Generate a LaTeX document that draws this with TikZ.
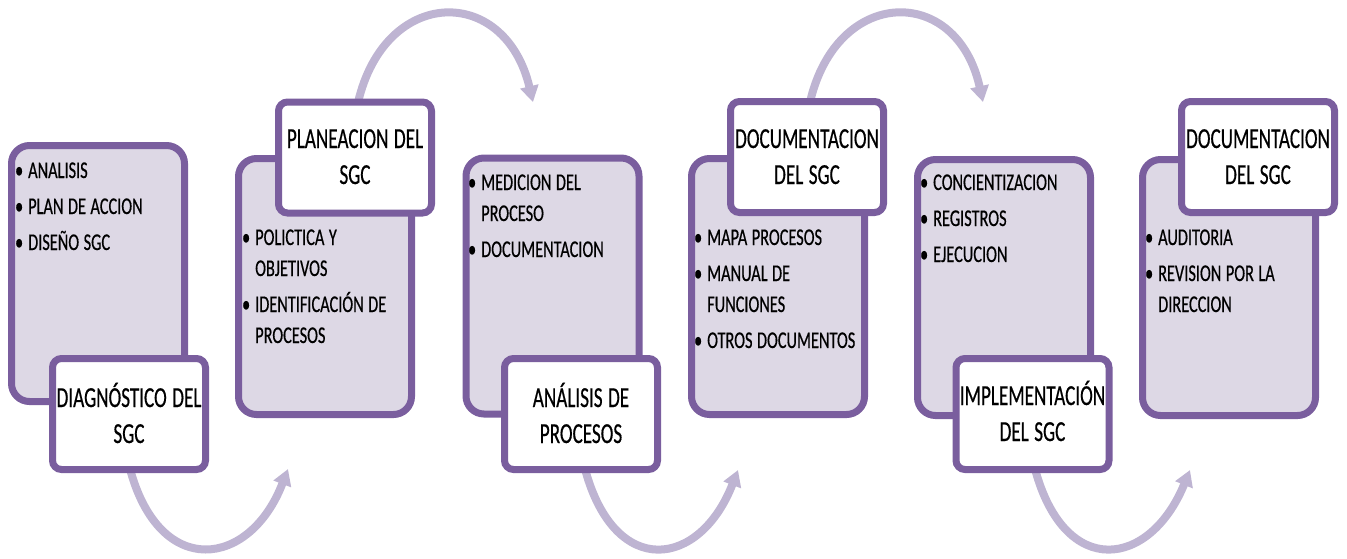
\documentclass[tikz,border=0pt]{standalone}
\usepackage{fontspec}
\setmainfont{Carlito}
\newfontfamily\itemfont{Carlito}[FakeStretch=0.68,FakeBold=0.5]
\newfontfamily\titlefont{Carlito}[FakeStretch=0.66,FakeBold=0.5]
\usetikzlibrary{arrows.meta,backgrounds}
\definecolor{brd}{HTML}{7A5E9E}
\definecolor{lav}{HTML}{DDD8E5}
\definecolor{arc}{HTML}{BEB4D2}
\newcommand{\bul}{\leavevmode\llap{\textbullet\hspace{5pt}}}

\begin{document}
\begin{tikzpicture}[x=1pt,y=-1pt,
  bigbox/.style={draw=brd, fill=lav, line width=7pt, rounded corners=18pt,
    minimum width=173pt, minimum height=256pt, inner sep=0pt},
  titlebox/.style={draw=brd, fill=white, line width=7pt, rounded corners=9pt,
    minimum width=153pt, minimum height=111pt, inner sep=0pt},
  items/.style={anchor=base west, inner sep=0pt, text width=175pt, align=left,
    font=\itemfont\fontsize{24}{31}\selectfont,
    execute at begin node={\spaceskip=4.5pt\relax}},
  title/.style={anchor=base, inner sep=0pt, text width=160pt, align=center,
    font=\titlefont\fontsize{29}{36}\selectfont,
    execute at begin node={\spaceskip=5.5pt\relax}},
  flow/.style={draw=arc, line width=8pt, -{Triangle[length=16pt,width=18pt]}}
]
\useasboundingbox (0,0) rectangle (1347,558);

% content panels
\node[bigbox] (b1) at (98,273.5) {};
\node[bigbox] (b2) at (325,286.5) {};
\node[bigbox] (b3) at (552.5,286) {};
\node[bigbox] (b4) at (778,286.5) {};
\node[bigbox] (b5) at (1004,287.5) {};
\node[bigbox] (b6) at (1229,287.5) {};

% stage title boxes
\node[titlebox] (s1) at (129,414) {};
\node[titlebox] (s2) at (355,157.5) {};
\node[titlebox] (s3) at (581,414) {};
\node[titlebox] (s4) at (807,157) {};
\node[titlebox] (s5) at (1032.5,414) {};
\node[titlebox] (s6) at (1258,157) {};

% bullet lists
\node[items] (t1) at (28,178) {\bul ANALISIS\\[5pt]\bul PLAN DE ACCION\\[5pt]\bul DISEÑO SGC};
\node[items] (t2) at (255,245) {\bul POLICTICA Y\\OBJETIVOS\\[5pt]\bul IDENTIFICACIÓN DE\\PROCESOS};
\node[items] (t3) at (481,190) {\bul MEDICION DEL\\PROCESO\\[5pt]\bul DOCUMENTACION};
\node[items] (t4) at (707,245) {\bul MAPA PROCESOS\\[5pt]\bul MANUAL DE\\FUNCIONES\\[5pt]\bul OTROS DOCUMENTOS};
\node[items] (t5) at (933,190) {\bul CONCIENTIZACION\\[5pt]\bul REGISTROS\\[5pt]\bul EJECUCION};
\node[items] (t6) at (1158,245) {\bul AUDITORIA\\[5pt]\bul REVISION POR LA\\DIRECCION};

% stage titles
\node[title] (h1) at (129,407) {DIAGNÓSTICO DEL\\SGC};
\node[title] (h2) at (355,148) {PLANEACION DEL\\SGC};
\node[title] (h3) at (581,407) {ANÁLISIS DE\\PROCESOS};
\node[title] (h4) at (807,148) {DOCUMENTACION\\DEL SGC};
\node[title] (h5) at (1032.5,405) {IMPLEMENTACIÓN\\DEL SGC};
\node[title] (h6) at (1258,148) {DOCUMENTACION\\DEL SGC};

% arrow ends
\coordinate (e1) at (288,469);
\coordinate (e2) at (533,102);
\coordinate (e3) at (738,470);
\coordinate (e4) at (983,102);
\coordinate (e5) at (1190,470);

% connecting arcs, behind the boxes
\begin{scope}[on background layer]
  \draw[flow] ([xshift=1pt,yshift=4pt]s1.south) .. controls (160,580) and (250,568) .. (e1);
  \draw[flow] ([xshift=3pt,yshift=-4pt]s2.north) .. controls (385,-14) and (505,-16) .. (e2);
  \draw[flow] ([xshift=4pt,yshift=4pt]s3.south) .. controls (615,580) and (700,568) .. (e3);
  \draw[flow] ([xshift=3pt,yshift=-4pt]s4.north) .. controls (837,-14) and (957,-16) .. (e4);
  \draw[flow] ([xshift=2.5pt,yshift=4pt]s5.south) .. controls (1065,580) and (1150,568) .. (e5);
\end{scope}
\end{tikzpicture}
\end{document}
